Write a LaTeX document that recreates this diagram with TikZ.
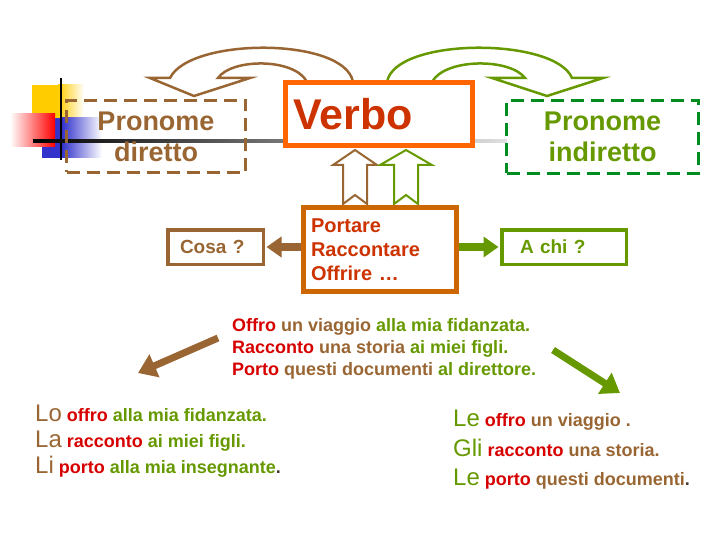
\documentclass[tikz,border=0pt]{standalone}
\usepackage{fontspec}
\setmainfont{Liberation Sans}
\usetikzlibrary{arrows.meta}
\definecolor{cbrown}{RGB}{153,102,51}
\definecolor{cgreen}{RGB}{102,153,0}
\definecolor{cdgreen}{RGB}{0,140,30}
\definecolor{corange}{RGB}{255,102,0}
\definecolor{cdorange}{RGB}{204,102,0}
\definecolor{cverb}{RGB}{204,51,0}
\definecolor{cred}{RGB}{215,0,0}
\definecolor{cyel}{RGB}{255,204,0}
\definecolor{cblue}{RGB}{51,51,204}
\definecolor{cdot}{RGB}{70,60,50}
\newcommand\fsz[2]{\fontsize{#1}{#2}\selectfont}
\begin{document}
\begin{tikzpicture}[x=1pt,y=-1pt,
  txt/.style={anchor=base west,inner sep=0pt},
  dashbox/.style={line width=3pt,dash pattern=on 13pt off 7pt,inner sep=0pt,align=center,font=\fsz{27}{31}\bfseries},
  solidbox/.style={inner sep=0pt,align=left},
  bendarrow/.style={line width=2.5pt,line join=miter},
  uparrow/.style={line width=2pt,fill=white,line join=miter},
  fatarrow/.style={line width=8pt,-{Triangle[length=15pt,width=20pt]}},
  diagarrow/.style={line width=7pt,-{Triangle[length=18pt,width=24pt]}}]
\useasboundingbox (0,0) rectangle (720,540);
% decoration
\fill[cyel] (32,85) rectangle (58,118);
\shade[left color=cyel,right color=white] (58,85) rectangle (84,118);
\fill[cblue] (42,118) rectangle (62,158);
\shade[left color=cblue,right color=white] (62,118) rectangle (102,158);
\shade[left color=white,right color=red] (10,114) rectangle (55,147);
\draw[line width=2pt,black] (61,78) -- (61,160);
\shade[left color=black,right color=black!12] (33,140) rectangle (507,142.2);
% curved arrows
\draw[bendarrow,cbrown] (353,82) .. controls (345,37) and (190,37) .. (170,78) -- (150,78) -- (194,96) -- (250,78) -- (218,78) .. controls (232,58) and (295,58) .. (307,82);
\draw[bendarrow,cgreen] (387,82) .. controls (395,37) and (555,37) .. (572,78) -- (603,78) -- (547,96) -- (492,78) -- (525,78) .. controls (510,58) and (445,58) .. (432,82);
% boxes
\node (pd) [dashbox,draw=cbrown,text=cbrown,minimum width=179pt,minimum height=72pt] at (156,136.5) {Pronome\\diretto};
\node (verbo) [draw=corange,line width=5pt,fill=white,minimum width=187pt,minimum height=63pt,inner sep=0pt] at (379,114) {};
\node (verbotxt) [txt,text=cverb,font=\fsz{43}{43}\bfseries] at (293,130) {Verbo};
\node (pi) [dashbox,draw=cdgreen,fill=white,text=cgreen,minimum width=192pt,minimum height=73pt] at (602.5,137) {Pronome\\indiretto};
% up arrows
\draw[uparrow,draw=cbrown] (355,150) -- (377,165) -- (367,165) -- (367,204) -- (355,195) -- (343,204) -- (343,165) -- (333,165) -- cycle;
\draw[uparrow,draw=cgreen] (406,150) -- (432,165) -- (418,165) -- (418,204) -- (406,195) -- (394,204) -- (394,165) -- (380,165) -- cycle;
\node (port) [solidbox,draw=cdorange,line width=5pt,fill=white,minimum width=153pt,minimum height=84pt,text width=138pt,text=cverb,font=\fsz{20}{24}\bfseries] at (380,249.5) {Portare\\Raccontare\\Offrire …};
\node (cosa) [solidbox,draw=cbrown,line width=3.5pt,minimum width=95.5pt,minimum height=34.5pt,text width=71pt,text=cbrown,font=\fsz{19}{19}\bfseries] at (215.5,247) {Cosa ?};
\node (achi) [solidbox,draw=cgreen,line width=3.5pt,minimum width=124.5pt,minimum height=34.5pt,text width=88pt,text=cgreen,font=\fsz{19}{19}\bfseries] at (564,247) {A chi ?};
\draw[fatarrow,cbrown,shorten >=1.5pt] (port.west |- cosa.east) -- (cosa.east);
\draw[fatarrow,cgreen,shorten >=1.5pt] (port.east |- achi.west) -- (achi.west);
% middle sentences
\node (s1) [txt,font=\fsz{18}{20}\bfseries] at (232,331) {\textcolor{cred}{Offro} \textcolor{cbrown}{un viaggio} \textcolor{cgreen}{alla mia fidanzata.}};
\node (s2) [txt,font=\fsz{18}{20}\bfseries] at (232,353) {\textcolor{cred}{Racconto} \textcolor{cbrown}{una storia} \textcolor{cgreen}{ai miei figli.}};
\node (s3) [txt,font=\fsz{18}{20}\bfseries] at (232,375) {\textcolor{cred}{Porto} \textcolor{cbrown}{questi documenti} \textcolor{cgreen}{al direttore.}};
% diagonal arrows
\coordinate (bA) at (218,338);
\coordinate (bB) at (138,373);
\coordinate (gA) at (553,350);
\coordinate (gB) at (620,393);
\draw[diagarrow,cbrown] (bA) -- (bB);
\draw[diagarrow,cgreen] (gA) -- (gB);
% bottom left
\node (l1) [txt,font=\fsz{18}{20}\bfseries] at (35,421) {{\fsz{24}{24}\mdseries\color{cbrown}Lo} \textcolor{cred}{offro} \textcolor{cgreen}{alla mia fidanzata.}};
\node (l2) [txt,font=\fsz{18}{20}\bfseries] at (35,447) {{\fsz{24}{24}\mdseries\color{cbrown}La} \textcolor{cred}{racconto} \textcolor{cgreen}{ai miei figli.}};
\node (l3) [txt,font=\fsz{18}{20}\bfseries] at (35,473) {{\fsz{24}{24}\mdseries\color{cbrown}Li} \textcolor{cred}{porto} \textcolor{cgreen}{alla mia insegnante}\textcolor{cdot}{.}};
% bottom right
\node (r1) [txt,font=\fsz{18}{20}\bfseries] at (453,426) {{\fsz{24}{24}\mdseries\color{cgreen}Le} \textcolor{cred}{offro} \textcolor{cbrown}{un viaggio .}};
\node (r2) [txt,font=\fsz{18}{20}\bfseries] at (453,456) {{\fsz{24}{24}\mdseries\color{cgreen}Gli} \textcolor{cred}{racconto} \textcolor{cbrown}{una storia.}};
\node (r3) [txt,font=\fsz{18}{20}\bfseries] at (453,485) {{\fsz{24}{24}\mdseries\color{cgreen}Le} \textcolor{cred}{porto} \textcolor{cbrown}{questi documenti}\textcolor{cdot}{.}};
\end{tikzpicture}
\end{document}
